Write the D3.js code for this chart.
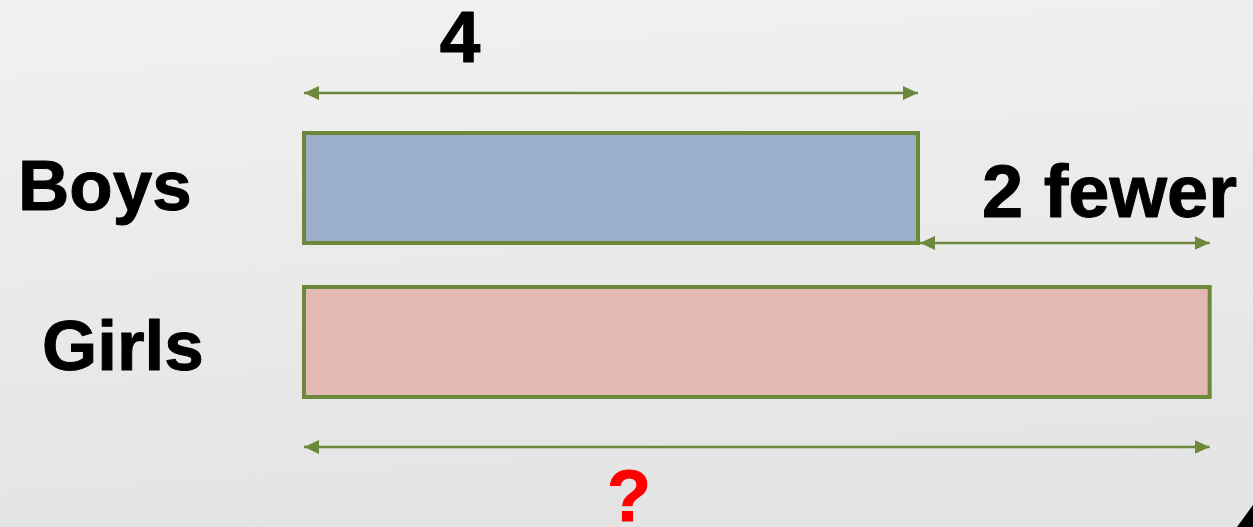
<!DOCTYPE html>
<html>
<head>
<meta charset="utf-8">
<script src="https://cdn.jsdelivr.net/npm/d3@7"></script>
<style>
  html, body { margin: 0; padding: 0; background: #ebebeb; }
  svg { display: block; }
</style>
</head>
<body>
<div id="chart"></div>
<script>
// data
const categories = ['Boys', 'Girls'];
const values = [4, 5.9];
const barColors = ['#9bafcd', '#e3bab3'];
const boysLabel = '4';
const diffLabel = '2 fewer';
const totalLabel = '?';

const width = 1253, height = 527;
const green = '#6c883b';
const font = '"Liberation Sans", Arial, Helvetica, sans-serif';

const svg = d3.select('#chart').append('svg')
  .attr('width', width)
  .attr('height', height);

const defs = svg.append('defs');
const bg = defs.append('linearGradient')
  .attr('id', 'bg')
  .attr('x1', 0).attr('y1', 0).attr('x2', 0.15).attr('y2', 1);
bg.append('stop').attr('offset', '0%').attr('stop-color', '#f1f1f1');
bg.append('stop').attr('offset', '100%').attr('stop-color', '#e4e4e4');

// one arrow head, reversed at the start of a line
defs.append('marker')
  .attr('id', 'arrow')
  .attr('viewBox', '0 -7 15 14')
  .attr('refX', 15)
  .attr('refY', 0)
  .attr('markerUnits', 'userSpaceOnUse')
  .attr('markerWidth', 15)
  .attr('markerHeight', 14)
  .attr('orient', 'auto-start-reverse')
  .append('path')
  .attr('d', 'M0,-7L15,0L0,7Z')
  .attr('fill', green);

svg.append('rect')
  .attr('width', width).attr('height', height)
  .attr('fill', 'url(#bg)');

const x = d3.scaleLinear()
  .domain([0, 4])
  .range([304, 918]);

const y = d3.scaleBand()
  .domain(categories)
  .range([133, 397])
  .paddingInner(2 / 7);

const data = categories.map((c, i) => ({ name: c, value: values[i], color: barColors[i] }));

// bars
svg.append('g')
  .selectAll('rect')
  .data(data)
  .join('rect')
  .attr('x', x(0))
  .attr('y', d => y(d.name))
  .attr('width', d => x(d.value) - x(0))
  .attr('height', y.bandwidth())
  .attr('fill', d => d.color)
  .attr('stroke', green)
  .attr('stroke-width', 4);

// bold text, slightly rounded like the original
function label(sel, size, color) {
  return sel
    .style('font-family', font)
    .style('font-weight', 'bold')
    .style('font-size', size)
    .style('fill', color)
    .style('stroke', color)
    .style('stroke-width', 1)
    .style('stroke-linejoin', 'round');
}

// category labels
label(svg.append('g')
  .selectAll('text')
  .data(data)
  .join('text')
  .attr('x', (d, i) => i === 0 ? 18 : 42)
  .attr('y', (d, i) => y(d.name) + (i === 0 ? 77 : 83)), '71px', '#000')
  .text(d => d.name);

function arrow(x1, x2, yy) {
  svg.append('line')
    .attr('x1', x1).attr('x2', x2)
    .attr('y1', yy).attr('y2', yy)
    .attr('stroke', green)
    .attr('stroke-width', 2.5)
    .attr('marker-start', 'url(#arrow)')
    .attr('marker-end', 'url(#arrow)');
}

const boys = data[0], girls = data[1];

// top arrow: boys length
arrow(x(0), x(boys.value), y('Boys') - 40);
label(svg.append('text')
  .attr('x', 460)
  .attr('y', 62)
  .attr('text-anchor', 'middle'), '73px', '#000')
  .text(boysLabel);

// difference arrow
arrow(x(boys.value) + 2, x(girls.value), y('Boys') + y.bandwidth());
label(svg.append('text')
  .attr('x', 982)
  .attr('y', 217), '74px', '#000')
  .text(diffLabel);

// bottom arrow: girls total
arrow(x(0), x(girls.value), y('Girls') + y.bandwidth() + 50);
label(svg.append('text')
  .attr('x', 629)
  .attr('y', 521)
  .attr('text-anchor', 'middle'), '72px', '#ff0000')
  .text(totalLabel);

// corner fold
svg.append('path')
  .attr('d', `M${width},${height - 22}L${width},${height}L${width - 16},${height}Z`)
  .attr('fill', '#000');
</script>
</body>
</html>
